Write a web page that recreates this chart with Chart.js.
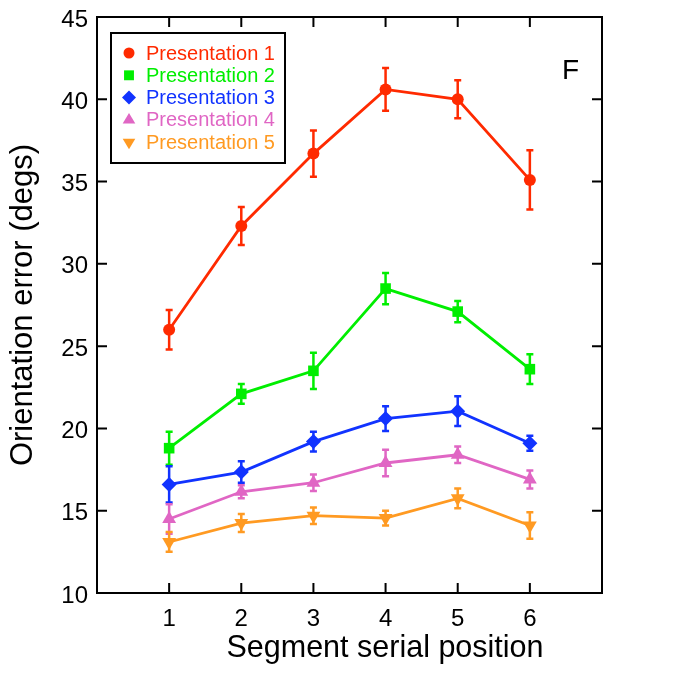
<!DOCTYPE html>
<html>
<head>
<meta charset="utf-8">
<script src="https://cdn.jsdelivr.net/npm/chart.js@4"></script>
<style>
  html, body { margin: 0; padding: 0; background: #fff; }
  #wrap { width: 686px; height: 677px; }
</style>
</head>
<body>
<div id="wrap"><canvas id="plot" width="686" height="677"></canvas></div>
<script>
var positions = [1, 2, 3, 4, 5, 6];
var xTicks = [1, 2, 3, 4, 5, 6];
var yTicks = [10, 15, 20, 25, 30, 35, 40, 45];

var seriesNames = ["Presentation 1", "Presentation 2", "Presentation 3", "Presentation 4", "Presentation 5"];
var p1 = [26.0, 32.3, 36.7, 40.6, 40.0, 35.1];
var p2 = [18.8, 22.1, 23.5, 28.5, 27.1, 23.6];
var p3 = [16.6, 17.35, 19.2, 20.6, 21.05, 19.1];
var p4 = [14.5, 16.15, 16.7, 17.9, 18.4, 16.9];
var p5 = [13.1, 14.25, 14.7, 14.55, 15.75, 14.1];

var p1Err = [1.2, 1.15, 1.4, 1.3, 1.15, 1.8];
var p2Err = [1.0, 0.6, 1.1, 0.95, 0.65, 0.9];
var p3Err = [1.1, 0.65, 0.6, 0.75, 0.9, 0.45];
var p4Err = [0.9, 0.4, 0.5, 0.8, 0.5, 0.55];
var p5Err = [0.6, 0.55, 0.5, 0.45, 0.6, 0.8];

var xTitle = "Segment serial position";
var yTitle = "Orientation error (degs)";
var panelLetter = "F";

var colors = ["#ff2a00", "#00ee00", "#1133ff", "#e066c4", "#ff9a22"];
var markers = ["circle", "rect", "rectRot", "triangle", "triangle"];
var markerRot = [0, 0, 0, 0, 180];
var markerSize = [6, 7.5, 7.5, 8, 8];

var values = [p1, p2, p3, p4, p5];
var errors = [p1Err, p2Err, p3Err, p4Err, p5Err];
var FONT = "'Liberation Sans', Arial, Helvetica, sans-serif";

function toPoints(ys) {
  return positions.map(function (x, i) { return { x: x, y: ys[i] }; });
}

var datasets = values.map(function (ys, k) {
  return {
    label: seriesNames[k],
    data: toPoints(ys),
    err: errors[k],
    borderColor: colors[k],
    backgroundColor: colors[k],
    borderWidth: 2.8,
    pointStyle: markers[k],
    pointRotation: markerRot[k],
    pointRadius: markerSize[k],
    pointBorderWidth: 0,
    tension: 0
  };
});

// error bars under the markers
var errorBars = {
  id: "errorBars",
  beforeDatasetsDraw: function (chart) {
    var ctx = chart.ctx, xs = chart.scales.x, ys = chart.scales.y;
    ctx.save();
    ctx.lineWidth = 2.5;
    chart.data.datasets.forEach(function (ds) {
      ctx.strokeStyle = ds.borderColor;
      ds.data.forEach(function (p, i) {
        var px = xs.getPixelForValue(p.x);
        var top = ys.getPixelForValue(p.y + ds.err[i]);
        var bot = ys.getPixelForValue(p.y - ds.err[i]);
        ctx.beginPath();
        ctx.moveTo(px, top); ctx.lineTo(px, bot);
        ctx.moveTo(px - 3.5, top); ctx.lineTo(px + 3.5, top);
        ctx.moveTo(px - 3.5, bot); ctx.lineTo(px + 3.5, bot);
        ctx.stroke();
      });
    });
    ctx.restore();
  }
};

// closed frame with inward ticks on all sides, x title
var frame = {
  id: "frame",
  afterDraw: function (chart) {
    var ctx = chart.ctx, a = chart.chartArea, xs = chart.scales.x, ys = chart.scales.y;
    var len = 10;
    ctx.save();
    ctx.strokeStyle = "#000";
    ctx.lineWidth = 2;
    ctx.strokeRect(a.left, a.top, a.right - a.left, a.bottom - a.top);
    ctx.beginPath();
    xTicks.forEach(function (v) {
      var px = xs.getPixelForValue(v);
      ctx.moveTo(px, a.bottom); ctx.lineTo(px, a.bottom - len);
      ctx.moveTo(px, a.top); ctx.lineTo(px, a.top + len);
    });
    yTicks.forEach(function (v) {
      var py = ys.getPixelForValue(v);
      ctx.moveTo(a.left, py); ctx.lineTo(a.left + len, py);
      ctx.moveTo(a.right, py); ctx.lineTo(a.right - len, py);
    });
    ctx.stroke();
    ctx.fillStyle = "#000";
    ctx.font = "30.5px " + FONT;
    ctx.textAlign = "center";
    ctx.textBaseline = "alphabetic";
    ctx.fillText(xTitle, a.left + 288, a.bottom + 64);
    ctx.restore();
  }
};

function drawMarker(ctx, style, rot, r, x, y) {
  ctx.save();
  ctx.translate(x, y);
  ctx.rotate(rot * Math.PI / 180);
  ctx.beginPath();
  if (style === "circle") {
    ctx.arc(0, 0, r, 0, Math.PI * 2);
  } else if (style === "rect") {
    var s = r * Math.SQRT1_2;
    ctx.rect(-s, -s, 2 * s, 2 * s);
  } else if (style === "rectRot") {
    ctx.moveTo(0, -r); ctx.lineTo(r, 0); ctx.lineTo(0, r); ctx.lineTo(-r, 0);
  } else {
    var h = r * 1.5;
    ctx.moveTo(0, -r); ctx.lineTo(r * 0.9, h - r); ctx.lineTo(-r * 0.9, h - r);
  }
  ctx.closePath();
  ctx.fill();
  ctx.restore();
}

// boxed legend inside the plot, upper left, plus panel letter
var boxLegend = {
  id: "boxLegend",
  afterDraw: function (chart) {
    var ctx = chart.ctx, a = chart.chartArea;
    var bx = a.left + 14, by = a.top + 16, bw = 174, bh = 130;
    ctx.save();
    ctx.fillStyle = "#fff";
    ctx.fillRect(bx, by, bw, bh);
    ctx.strokeStyle = "#000";
    ctx.lineWidth = 2;
    ctx.strokeRect(bx, by, bw, bh);
    ctx.font = "20px " + FONT;
    ctx.textBaseline = "middle";
    chart.data.datasets.forEach(function (ds, k) {
      var cy = by + 20 + k * 22.3;
      ctx.fillStyle = ds.borderColor;
      drawMarker(ctx, ds.pointStyle, ds.pointRotation, k === 0 ? 5.5 : 7, bx + 18, cy);
      ctx.fillText(ds.label, bx + 35, cy + 1);
    });
    ctx.fillStyle = "#000";
    ctx.font = "28px " + FONT;
    ctx.textAlign = "left";
    ctx.textBaseline = "alphabetic";
    ctx.fillText(panelLetter, a.right - 40, a.top + 62);
    ctx.restore();
  }
};

new Chart("plot", {
  type: "line",
  data: { datasets: datasets },
  options: {
    responsive: false,
    animation: false,
    layout: { padding: { left: 0, top: 17, right: 84, bottom: 0 } },
    plugins: {
      legend: { display: false },
      tooltip: { enabled: false }
    },
    scales: {
      x: {
        type: "linear",
        min: 0,
        max: 7,
        afterBuildTicks: function (s) { s.ticks = xTicks.map(function (v) { return { value: v }; }); },
        afterFit: function (s) { s.height = 84; s.paddingLeft = 0; s.paddingRight = 0; },
        grid: { display: false, drawTicks: false },
        border: { display: false },
        ticks: { color: "#000", font: { family: FONT, size: 24 }, padding: 12 },
        title: { display: false }
      },
      y: {
        min: 10,
        max: 45,
        afterBuildTicks: function (s) { s.ticks = yTicks.map(function (v) { return { value: v }; }); },
        afterFit: function (s) { s.width = 97; s.paddingTop = 0; s.paddingBottom = 0; },
        grid: { display: false, drawTicks: false },
        border: { display: false },
        ticks: { color: "#000", font: { family: FONT, size: 24 }, padding: 9, labelOffset: 3 },
        title: { display: true, text: yTitle, color: "#000", font: { family: FONT, size: 31 }, padding: { top: 5, bottom: 0 } }
      }
    }
  },
  plugins: [errorBars, frame, boxLegend]
});
</script>
</body>
</html>
